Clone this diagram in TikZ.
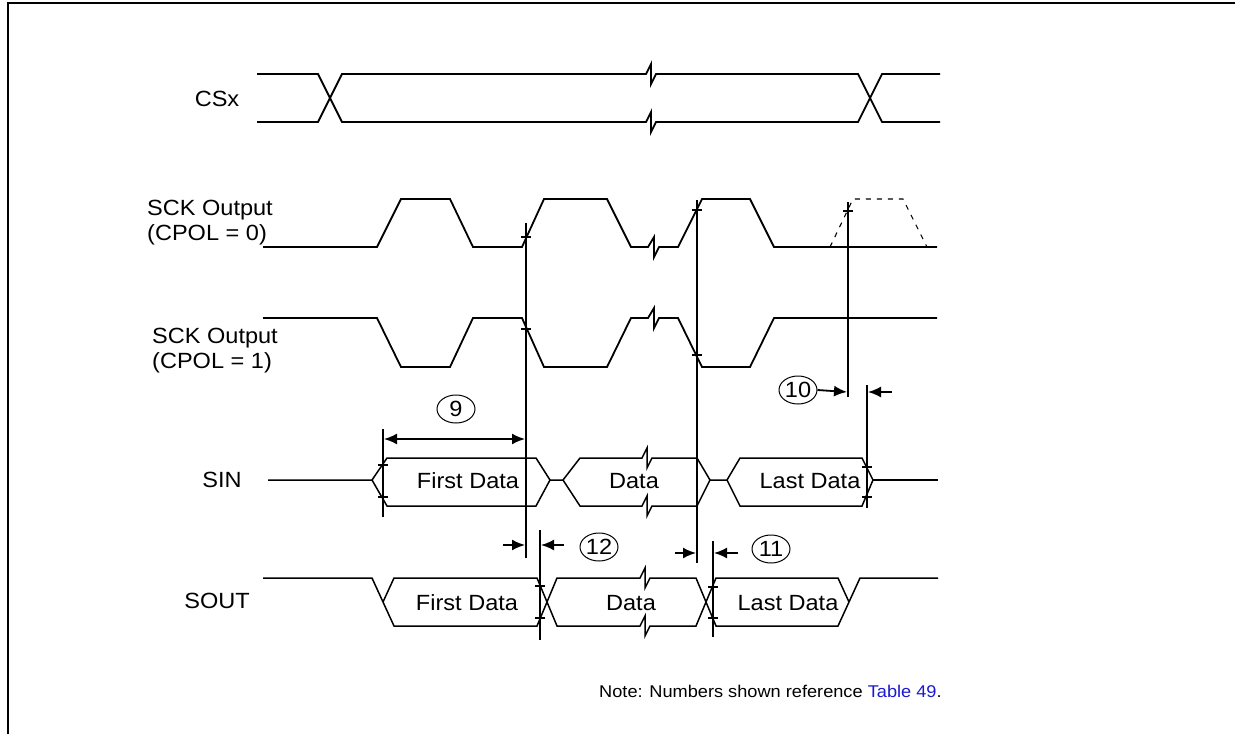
\documentclass[tikz,border=0pt]{standalone}
\usepackage{fontspec}
\setmainfont{Liberation Sans}[FakeStretch=1.07]
\usetikzlibrary{arrows.meta}
\usetikzlibrary{shapes.geometric}
\definecolor{tbl}{RGB}{25,25,205}
\tikzstyle{wave}=[line width=1.8pt]
\tikzstyle{bus}=[line width=1.5pt]
\tikzstyle{refline}=[line width=1.8pt]
\tikzstyle{tk}=[line width=1.3pt]
\tikzstyle{dim}=[line width=1.8pt,->]
\tikzstyle{sig}=[font=\fontsize{22}{25}\selectfont, inner sep=0pt]
\tikzstyle{num}=[draw, ellipse, line width=1pt, minimum width=38pt, minimum height=28pt, inner sep=0pt, font=\fontsize{22}{25}\selectfont]

\begin{document}
\begin{tikzpicture}[x=1pt,y=-1pt,>={Latex[length=13pt,width=11pt]}]
    \useasboundingbox (0,0) rectangle (1235,734);
    % frame
    \draw[line width=2.7pt] (8,734) -- (8,3) -- (1235,3);

    % signal names
    \node[sig] (cs) at (217,99) {CSx};
    \node[sig,align=left,anchor=west] (sck0) at (147,223) {SCK Output\\(CPOL = 0)};
    \node[sig,align=left,anchor=west] (sck1) at (152,351) {SCK Output\\(CPOL = 1)};
    \node[sig] (sin) at (222,480) {SIN};
    \node[sig] (sout) at (217,601) {SOUT};

    % CSx
    \draw[wave] (257,74) -- (318,74) -- (342,122) -- (646,122) -- (651,112) -- (651,132) -- (656,122)
        -- (858,122) -- (882,74) -- (940,74);
    \draw[wave] (257,122) -- (318,122) -- (342,74) -- (646,74) -- (651,64) -- (651,84) -- (656,74)
        -- (858,74) -- (882,122) -- (940,122);

    % SCK, CPOL = 0
    \draw[wave] (263,247) -- (377,247) -- (401,199) -- (450,199) -- (473,247) -- (522,247)
        -- (544,199) -- (607,199) -- (631,247) -- (648,247) -- (654,237) -- (654,257) -- (659,247)
        -- (678,247) -- (702,199) -- (750,199) -- (774,247) -- (937,247);
    \draw[line width=1.1pt,dash pattern=on 5pt off 6pt] (830,247) -- (853,199) -- (903,199) -- (927,247);

    % SCK, CPOL = 1
    \draw[wave] (263,318) -- (377,318) -- (401,367) -- (450,367) -- (473,318) -- (522,318)
        -- (544,367) -- (607,367) -- (631,318) -- (648,318) -- (654,308) -- (654,328) -- (659,318)
        -- (678,318) -- (702,367) -- (750,367) -- (774,318) -- (937,318);

    % SIN
    \draw[bus] (268,480) -- (372,480) -- (387,458) -- (536,458) -- (550,480) -- (536,506) -- (387,506) -- (372,480);
    \draw[bus] (550,480) -- (563,480) -- (580,458) -- (642,458) -- (647,448) -- (647,468) -- (652,458)
        -- (697,458) -- (710,480) -- (697,506) -- (652,506) -- (647,516) -- (647,496) -- (642,506)
        -- (580,506) -- (563,480);
    \draw[bus] (710,480) -- (727,480) -- (740,458) -- (862,458) -- (873,480) -- (862,506) -- (740,506) -- (727,480);
    \draw[bus] (873,480) -- (938,480);
    \node[sig] (sin1) at (468,481) {First Data};
    \node[sig] (sin2) at (634,481) {Data};
    \node[sig] (sin3) at (810,481) {Last Data};

    % SOUT
    \draw[bus] (263,578) -- (372,578) -- (394,626) -- (537,626) -- (557,578) -- (640,578) -- (645,568)
        -- (645,588) -- (650,578) -- (696,578) -- (716,626) -- (838,626) -- (860,578) -- (938,578);
    \draw[bus] (383,602) -- (394,578) -- (537,578) -- (557,626) -- (640,626) -- (645,616) -- (645,636)
        -- (650,626) -- (696,626) -- (716,578) -- (838,578) -- (849,602);
    \node[sig] (sout1) at (467,603) {First Data};
    \node[sig] (sout2) at (631,603) {Data};
    \node[sig] (sout3) at (788,603) {Last Data};

    % timing references
    \draw[refline] (383,429) -- (383,517);
    \draw[refline] (526,223) -- (526,558);
    \draw[refline] (697,200) -- (697,563);
    \draw[refline] (848,202) -- (848,397);
    \draw[refline] (867,385) -- (867,508);
    \draw[refline] (540,530) -- (540,640);
    \draw[refline] (713,541) -- (713,637);
    \foreach \x/\y in {526/237, 526/329, 697/210, 697/355, 848/211, 383/465, 383/497,
                       867/467, 867/497, 540/586, 540/618, 713/587, 713/618}
        \draw[tk] (\x-5,\y) -- (\x+5,\y);

    % numbered timings
    \node[num] (t9) at (456,409) {9};
    \draw[line width=1.8pt,<->] (384,439) -- (525,439);
    \node[num] (t10) at (798,390) {10};
    \coordinate (t10r) at (892,392);
    \draw[dim] (t10.east) -- (847,392);
    \draw[dim] (t10r) -- (868,392);
    \node[num] (t12) at (599,547) {12};
    \coordinate (t12l) at (503,545);
    \coordinate (t12r) at (564,545);
    \draw[dim] (t12l) -- (525,545);
    \draw[dim] (t12r) -- (541,545);
    \node[num] (t11) at (771,549) {11};
    \coordinate (t11l) at (675,553);
    \coordinate (t11r) at (738,553);
    \draw[dim] (t11l) -- (696,553);
    \draw[dim] (t11r) -- (714,553);

    % note
    \node[anchor=base west,inner sep=0pt,font=\fontsize{17}{20}\selectfont] (note) at (599,697)
        {Note: Numbers shown reference \textcolor{tbl}{Table 49}.};
\end{tikzpicture}
\end{document}
